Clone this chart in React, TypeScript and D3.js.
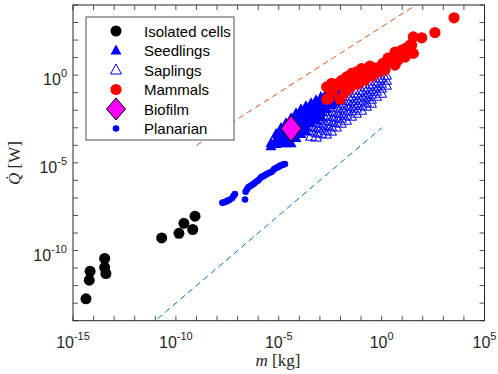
import React from "react";
import * as d3 from "d3";

// all values are log10 (mass in kg, heat rate in W)
const cellsLogM = [-14.37, -14.21, -14.17, -13.46, -13.46, -13.40, -10.69, -9.85, -9.61, -9.18, -9.07];
const cellsLogQ = [-12.75, -11.69, -11.18, -10.45, -10.96, -11.31, -9.28, -9.02, -8.45, -8.80, -8.04];

// seedlings: dense band, listed column by column
const seedlingsLogM = [
  -5.38, -5.38,
  -5.13, -5.13, -5.13,
  -4.89, -4.89, -4.89, -4.89,
  -4.65, -4.65, -4.65, -4.65, -4.65,
  -4.40, -4.40, -4.40, -4.40, -4.40, -4.40,
  -4.16, -4.16, -4.16, -4.16, -4.16, -4.16,
  -3.92, -3.92, -3.92, -3.92, -3.92, -3.92,
  -3.68, -3.68, -3.68, -3.68, -3.68, -3.68,
  -3.43, -3.43, -3.43, -3.43, -3.43,
  -3.19, -3.19, -3.19, -3.19, -3.19,
  -2.95, -2.95, -2.95, -2.95, -2.95,
  -2.70, -2.70, -2.70, -2.70,
  -2.46, -2.46, -2.46, -2.46,
  -2.22, -2.22, -2.22, -2.22,
  -1.98, -1.98, -1.98, -1.98,
  -1.73, -1.73, -1.73,
];
const seedlingsLogQ = [
  -3.88, -4.05,
  -3.36, -3.65, -3.93,
  -3.02, -3.31, -3.59, -3.88,
  -2.74, -3.02, -3.31, -3.59, -3.88,
  -2.45, -2.74, -3.02, -3.31, -3.59, -3.88,
  -2.17, -2.45, -2.74, -3.02, -3.31, -3.59,
  -1.94, -2.22, -2.51, -2.79, -3.08, -3.36,
  -1.77, -2.05, -2.34, -2.62, -2.91, -3.19,
  -1.60, -1.88, -2.17, -2.45, -2.74,
  -1.43, -1.71, -2.00, -2.28, -2.57,
  -1.25, -1.54, -1.82, -2.11, -2.39,
  -1.08, -1.37, -1.65, -1.94,
  -0.86, -1.14, -1.43, -1.71,
  -0.68, -0.97, -1.25, -1.54,
  -0.51, -0.80, -1.08, -1.37,
  -0.34, -0.63, -0.91,
];

// saplings: open triangles below the seedling band
const saplingsLogM = [
  -3.43, -3.43, -3.43,
  -3.19, -3.19, -3.19, -3.19,
  -2.95, -2.95, -2.95, -2.95,
  -2.70, -2.70, -2.70, -2.70, -2.70,
  -2.46, -2.46, -2.46, -2.46, -2.46,
  -2.22, -2.22, -2.22, -2.22, -2.22,
  -1.98, -1.98, -1.98, -1.98, -1.98,
  -1.73, -1.73, -1.73, -1.73, -1.73,
  -1.49, -1.49, -1.49, -1.49, -1.49,
  -1.25, -1.25, -1.25, -1.25, -1.25,
  -1.00, -1.00, -1.00, -1.00, -1.00,
  -0.76, -0.76, -0.76, -0.76, -0.76,
  -0.52, -0.52, -0.52, -0.52, -0.52,
  -0.27, -0.27, -0.27, -0.27,
  -0.03, -0.03, -0.03, -0.03,
  0.21, 0.21, 0.21,
];
const saplingsLogQ = [
  -2.91, -3.19, -3.48,
  -2.68, -2.96, -3.25, -3.53,
  -2.45, -2.74, -3.02, -3.31,
  -2.28, -2.57, -2.85, -3.14, -3.36,
  -2.05, -2.34, -2.62, -2.91, -3.19,
  -1.82, -2.11, -2.39, -2.68, -2.96,
  -1.60, -1.88, -2.17, -2.45, -2.74,
  -1.43, -1.71, -2.00, -2.28, -2.57,
  -1.20, -1.48, -1.77, -2.05, -2.34,
  -1.03, -1.31, -1.60, -1.88, -2.17,
  -0.86, -1.14, -1.43, -1.71, -2.00,
  -0.68, -0.97, -1.25, -1.54, -1.77,
  -0.51, -0.80, -1.08, -1.37, -1.60,
  -0.34, -0.63, -0.91, -1.20,
  -0.17, -0.46, -0.74, -1.03,
  0.00, -0.29, -0.57,
];

const mammalsLogM = [
  -2.67, -2.59, -2.02, -2.35, -2.67, -2.43, -2.18, -2.11, -1.94, -1.70, -1.54, -1.38,
  -1.45, -1.21, -0.89, -0.97, -0.65, -0.40, -0.08, 0.41, 0.57, 0.89, 1.05, 0.98,
  1.54, 1.46, 1.38, 1.54, 1.95, 2.59, 3.52, -1.78, -1.15, -0.57, 0.16, 0.70, 1.19,
  -1.78, -1.54, -1.15, -0.81, -0.47, -0.18, 0.16, 0.65, 0.80, 1.14, 1.28,
  -1.05, -0.71, -0.32, 0.07, 0.31, 0.65, -2.41,
];
const mammalsLogQ = [
  -1.37, -1.33, -1.37, -0.76, -0.67, -0.47, -0.57, -0.47, -0.29, -0.10, -0.38, -0.19,
  0.10, 0.19, 0.10, 0.38, 0.29, 0.29, 0.47, 0.76, 0.95, 1.14, 1.33, 1.43,
  1.24, 1.71, 1.71, 2.18, 2.13, 2.43, 3.27, -0.74, -0.06, 0.51, 0.63, 1.08, 1.54,
  -0.97, -0.74, -0.51, -0.29, -0.06, 0.17, 0.29, 0.57, 0.86, 1.03, 1.31,
  -0.11, 0.00, 0.40, 0.68, 0.97, 1.31, -0.97,
];

const biofilmLogM = [-4.4];
const biofilmLogQ = [-3.04];

const planarianLogM = [
  -7.74, -7.66, -7.58, -7.50, -7.42, -7.29, -7.20, -7.13, -6.64, -6.61, -6.55, -6.48,
  -6.40, -6.31, -6.22, -6.15, -6.05, -5.99, -5.90, -5.83, -5.75, -5.67, -5.58, -5.51,
  -5.42, -5.34, -5.25, -5.18, -5.10, -5.02, -4.94, -4.86, -4.78, -4.70,
];
const planarianLogQ = [
  -7.28, -7.25, -7.22, -7.17, -7.13, -7.03, -6.90, -6.78, -7.09, -6.65, -6.52, -6.40,
  -6.33, -6.27, -6.20, -6.12, -6.04, -5.99, -5.88, -5.80, -5.76, -5.70, -5.64, -5.60,
  -5.55, -5.51, -5.40, -5.32, -5.28, -5.23, -5.17, -5.13, -5.10, -5.07,
];

// reference lines (endpoints, log10)
const upperLineLogM = [-9, 2];
const upperLineLogQ = [-4, 4.25];
const lowerLineLogM = [-12, 0];
const lowerLineLogQ = [-15, -3];

const xTickExps = d3.range(-15, 6);
const yTickExps = d3.range(-14, 5);
const xLabelExps = [-15, -10, -5, 0, 5];
const yLabelExps = [-10, -5, 0];

const legendItems = ["Isolated cells", "Seedlings", "Saplings", "Mammals", "Biofilm", "Planarian"];

const W = 498, H = 374;
const margin = { left: 73, top: 5, right: 13.5, bottom: 53.3 };
const axisColor = "#262626";
const sans = "'Liberation Sans', Arial, Helvetica, sans-serif";
const serif = "'Liberation Serif', 'Times New Roman', serif";

const x = d3.scaleLog().domain([1e-15, 1e5]).range([margin.left, W - margin.right]);
const y = d3.scaleLog().domain([1e-14, 1e4]).range([H - margin.bottom, margin.top]);

const pts = (lm: number[], lq: number[]) => lm.map((v, i) => [x(10 ** v), y(10 ** lq[i])]);

const triPath = (cx: number, cy: number, w = 11, h = 10) =>
  `M${cx},${cy - h * 0.6}L${cx + w / 2},${cy + h * 0.4}L${cx - w / 2},${cy + h * 0.4}Z`;
const diamondPath = (cx: number, cy: number, w = 20, h = 26) =>
  `M${cx},${cy - h / 2}L${cx + w / 2},${cy}L${cx},${cy + h / 2}L${cx - w / 2},${cy}Z`;

function Marker({ kind, cx, cy }: { kind: number; cx: number; cy: number }) {
  if (kind === 0) return <circle cx={cx} cy={cy} r={5.5} fill="#000" />;
  if (kind === 1) return <path d={triPath(cx, cy)} fill="#00f" />;
  if (kind === 2) return <path d={triPath(cx, cy)} fill="none" stroke="#00f" strokeWidth={1} />;
  if (kind === 3) return <circle cx={cx} cy={cy} r={5.6} fill="#f00" />;
  if (kind === 4) return <path d={diamondPath(cx, cy, 19, 22)} fill="#f0f" stroke="#000" strokeWidth={1} />;
  return <circle cx={cx} cy={cy} r={3.3} fill="#00f" />;
}

export default function App() {
  const x0 = margin.left, x1 = W - margin.right;
  const y0 = margin.top, y1 = H - margin.bottom;
  const line = d3.line<number[]>().x((d) => d[0]).y((d) => d[1]);
  const tickLen = 5;

  return (
    <svg width={W} height={H} style={{ position: "absolute", left: 0, top: 0, background: "#fff" }}>
      <defs>
        <clipPath id="plotClip">
          <rect x={x0} y={y0} width={x1 - x0} height={y1 - y0} />
        </clipPath>
      </defs>
      <rect x={x0} y={y0} width={x1 - x0} height={y1 - y0} fill="#fff" />

      <g clipPath="url(#plotClip)">
        <path d={line(pts(upperLineLogM, upperLineLogQ)) || ""} stroke="#D95319" strokeWidth={1} strokeDasharray="6,4" fill="none" />
        <path d={line(pts(lowerLineLogM, lowerLineLogQ)) || ""} stroke="#0072BD" strokeWidth={1} strokeDasharray="6,4" fill="none" />

        {pts(cellsLogM, cellsLogQ).map((p, i) => <Marker key={"c" + i} kind={0} cx={p[0]} cy={p[1]} />)}
        {pts(seedlingsLogM, seedlingsLogQ).map((p, i) => <Marker key={"s" + i} kind={1} cx={p[0]} cy={p[1]} />)}
        {pts(saplingsLogM, saplingsLogQ).map((p, i) => <Marker key={"a" + i} kind={2} cx={p[0]} cy={p[1]} />)}
        {pts(mammalsLogM, mammalsLogQ).map((p, i) => <Marker key={"m" + i} kind={3} cx={p[0]} cy={p[1]} />)}
        {pts(biofilmLogM, biofilmLogQ).map((p, i) => (
          <path key={"b" + i} d={diamondPath(p[0], p[1])} fill="#f0f" stroke="#000" strokeWidth={1} />
        ))}
        {pts(planarianLogM, planarianLogQ).map((p, i) => <Marker key={"p" + i} kind={5} cx={p[0]} cy={p[1]} />)}
      </g>

      {/* ticks, inward on all four sides */}
      <g stroke={axisColor} strokeWidth={0.8}>
        {xTickExps.map((e) => {
          const px = x(10 ** e);
          return (
            <g key={"xt" + e}>
              <line x1={px} x2={px} y1={y1} y2={y1 - tickLen} />
              <line x1={px} x2={px} y1={y0} y2={y0 + tickLen} />
            </g>
          );
        })}
        {yTickExps.map((e) => {
          const py = y(10 ** e);
          return (
            <g key={"yt" + e}>
              <line x1={x0} x2={x0 + tickLen} y1={py} y2={py} />
              <line x1={x1} x2={x1 - tickLen} y1={py} y2={py} />
            </g>
          );
        })}
      </g>
      <rect x={x0} y={y0} width={x1 - x0} height={y1 - y0} fill="none" stroke={axisColor} strokeWidth={1} />

      {/* tick labels */}
      <g fontFamily={sans} fill={axisColor}>
        {xLabelExps.map((e) => (
          <text key={"xl" + e} x={x(10 ** e)} y={y1 + 27.5} textAnchor="middle" fontSize={16}>
            10<tspan fontSize={11} dy={-8}>{e}</tspan>
          </text>
        ))}
        {yLabelExps.map((e) => (
          <text key={"yl" + e} x={67} y={y(10 ** e) + 10} textAnchor="end" fontSize={16}>
            10<tspan fontSize={11} dy={-8}>{e}</tspan>
          </text>
        ))}
      </g>

      {/* axis labels */}
      <text x={278} y={366} textAnchor="middle" fontFamily={serif} fontSize={17} fill={axisColor}>
        <tspan fontStyle="italic">m</tspan> [kg]
      </text>
      <text transform="translate(20,163) rotate(-90)" textAnchor="middle" fontFamily={serif} fontSize={17} fill={axisColor}>
        <tspan fontStyle="italic">{"Q\u0307"}</tspan> [W]
      </text>

      {/* legend */}
      <rect x={86} y={17} width={148} height={123} fill="#fff" stroke={axisColor} strokeWidth={0.8} />
      {legendItems.map((name, i) => {
        const ly = 31 + i * 19.5;
        return (
          <g key={name}>
            <Marker kind={i} cx={116} cy={ly} />
            <text x={144} y={ly + 5.5} fontFamily={sans} fontSize={15} fill="#000">{name}</text>
          </g>
        );
      })}
    </svg>
  );
}
